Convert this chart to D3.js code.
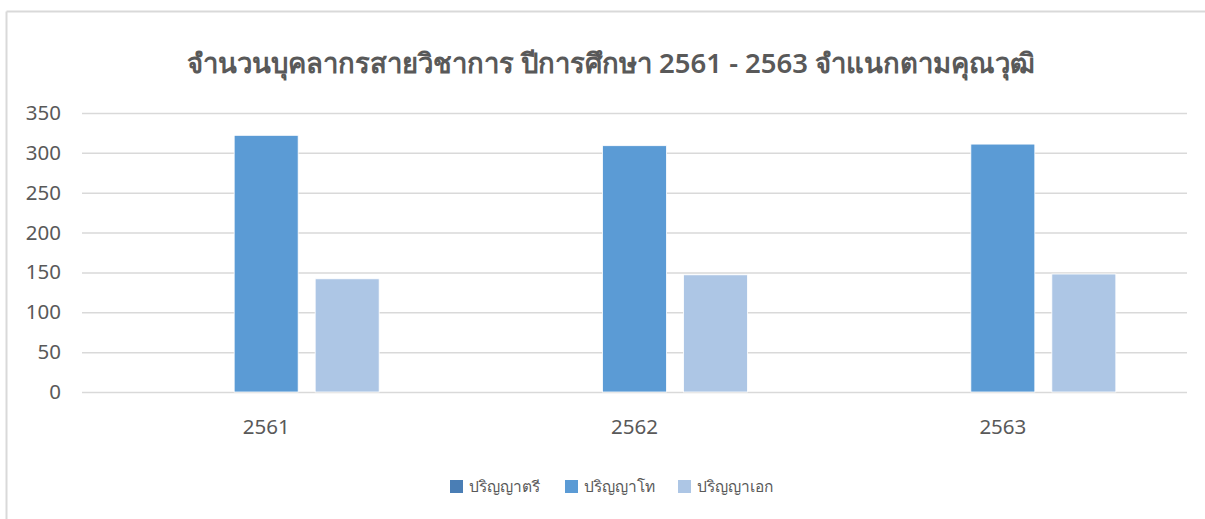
<!DOCTYPE html>
<html>
<head>
<meta charset="utf-8">
<script src="https://cdn.jsdelivr.net/npm/d3@7"></script>
<style>
  body { margin: 0; background: #fff; }
  text { font-family: "Noto Sans", "Open Sans", sans-serif; fill: #595959; }
</style>
</head>
<body>
<svg width="1205" height="519"></svg>
<script>
const categories = ["2561", "2562", "2563"];
const seriesNames = ["ปริญญาตรี", "ปริญญาโท", "ปริญญาเอก"];
const bachelor = [0, 0, 0];
const master = [322, 309, 311];
const doctor = [142, 147, 148];
const yTicks = [0, 50, 100, 150, 200, 250, 300, 350];
const colors = ["#4a7eb5", "#5b9bd5", "#adc6e5"];

const seriesValues = [bachelor, master, doctor];
const rows = categories.map((c, i) => ({
  cat: c,
  vals: seriesNames.map((s, j) => ({ name: s, value: seriesValues[j][i], idx: j }))
}));

const svg = d3.select("svg");

// chart frame
svg.append("line").attr("x1", 6.5).attr("x2", 6.5).attr("y1", 11.5).attr("y2", 519)
  .attr("stroke", "#d9d9d9").attr("stroke-width", 2);
svg.append("line").attr("x1", 6.5).attr("x2", 1205).attr("y1", 11.5).attr("y2", 11.5)
  .attr("stroke", "#d9d9d9").attr("stroke-width", 2);

svg.append("text")
  .attr("x", 611).attr("y", 73)
  .attr("text-anchor", "middle")
  .attr("font-size", 27.5)
  .attr("font-weight", 600)
  .text("จำนวนบุคลากรสายวิชาการ ปีการศึกษา 2561 - 2563 จำแนกตามคุณวุฒิ");

const plotL = 82, plotR = 1187, plotT = 113, plotB = 392;

const y = d3.scaleLinear().domain([0, 350]).range([plotB, plotT]);
const x0 = d3.scaleBand().domain(categories).range([plotL, plotR]);
const groupW = 226;
const x1 = d3.scaleBand().domain(seriesNames)
  .range([(x0.bandwidth() - groupW) / 2, (x0.bandwidth() + groupW) / 2])
  .paddingInner(0.21);

// gridlines
const grid = svg.append("g")
  .attr("transform", `translate(${plotL},0)`)
  .call(d3.axisLeft(y).tickValues(yTicks).tickSize(-(plotR - plotL)).tickFormat(""));
grid.select(".domain").remove();
grid.selectAll(".tick line").attr("stroke", "#d9d9d9").attr("stroke-width", 1.5);

// y labels
const yAxis = svg.append("g")
  .attr("transform", `translate(61,0)`)
  .call(d3.axisLeft(y).tickValues(yTicks).tickSize(0).tickPadding(0));
yAxis.select(".domain").remove();
yAxis.selectAll("text").attr("font-size", 20.5).attr("fill", "#595959")
  .style("font-family", "'Noto Sans', sans-serif");

// bars
const groups = svg.append("g").selectAll("g")
  .data(rows).enter().append("g")
  .attr("transform", d => `translate(${x0(d.cat)},0)`);

groups.selectAll("rect")
  .data(d => d.vals).enter().append("rect")
  .attr("x", d => x1(d.name))
  .attr("width", x1.bandwidth())
  .attr("y", d => y(d.value))
  .attr("height", d => plotB - y(d.value))
  .attr("fill", d => colors[d.idx])
  .attr("stroke", "#ffffff")
  .attr("stroke-width", 0.8);

// category axis
const xAxis = svg.append("g")
  .attr("transform", `translate(0,${plotB})`)
  .call(d3.axisBottom(x0).tickSize(0).tickPadding(27));
xAxis.select(".domain").remove();
xAxis.selectAll("text").attr("font-size", 20.5).attr("fill", "#595959")
  .style("font-family", "'Noto Sans', sans-serif");

// legend
const legendX = [450, 565, 678];
const legend = svg.append("g").selectAll("g")
  .data(seriesNames).enter().append("g")
  .attr("transform", (d, i) => `translate(${legendX[i]},480)`);
legend.append("rect").attr("width", 13).attr("height", 13)
  .attr("fill", (d, i) => colors[i]);
legend.append("text").attr("x", 19).attr("y", 12)
  .attr("font-size", 15.5)
  .text(d => d);
</script>
</body>
</html>
